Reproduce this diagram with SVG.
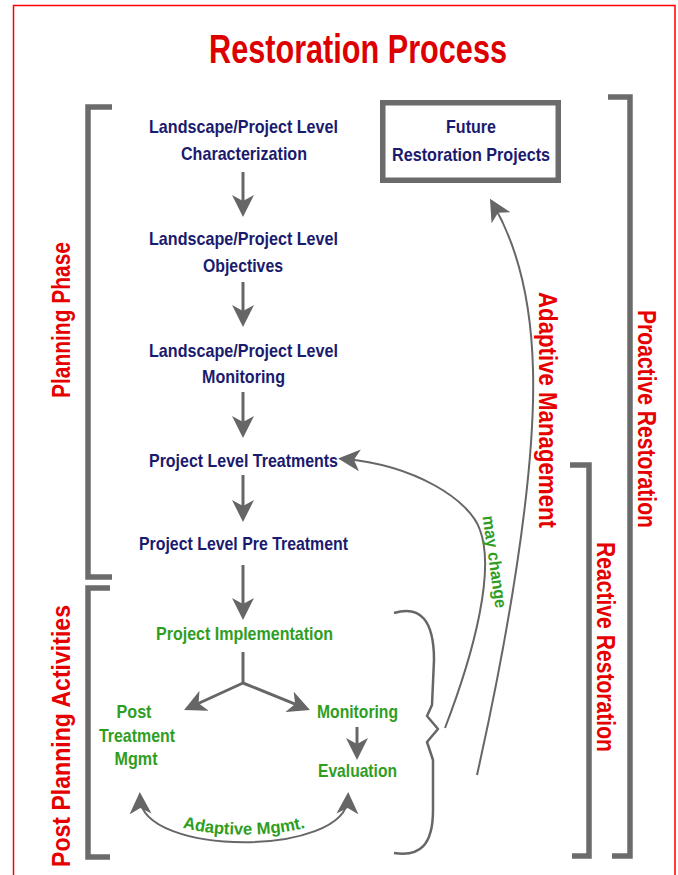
<svg xmlns="http://www.w3.org/2000/svg" width="678" height="875" viewBox="0 0 678 875">
<style>
text{font-family:"Liberation Sans",Arial,sans-serif;font-weight:bold;}
.navy{fill:#1a1a6e;font-size:19px;text-anchor:middle}
.green{fill:#2f9e1f;font-size:19px;text-anchor:middle}
.red{fill:#e60000;font-size:26px;text-anchor:middle}
.br{fill:none;stroke:#6b6b6b;stroke-width:5.5;stroke-linejoin:miter}
.ar{fill:none;stroke:#666;stroke-width:3;marker-end:url(#ah)}
.cv{fill:none;stroke:#666;stroke-width:2;marker-end:url(#ah)}
.brace{fill:none;stroke:#666;stroke-width:2.5;stroke-linejoin:round}
</style>
<defs>
<marker id="ah" markerUnits="userSpaceOnUse" markerWidth="22" markerHeight="22" refX="16" refY="11" orient="auto-start-reverse">
<path d="M0,0 L22,11 L0,22 L6,11 Z" fill="#666"/>
</marker>
<path id="tp" d="M 136,792 C 140,849 348,849 352,792"/>
</defs>

<rect width="678" height="875" fill="#fff"/>
<path d="M13.5,875 V5.5 H675 V875" fill="none" stroke="#f00" stroke-width="1.5"/>

<text x="358" y="63" font-size="40" fill="#dd0000" text-anchor="middle" textLength="298" lengthAdjust="spacingAndGlyphs">Restoration Process</text>

<g id="brackets">
<polyline class="br" points="112,107 88,107 88,577 112,577"/>
<polyline class="br" points="110,588 88,588 88,857 110,857"/>
<polyline class="br" points="608,97 630,97 630,856 612,856"/>
<polyline class="br" points="570,465 589,465 589,856 572,856"/>
</g>

<g id="side-labels">
<text class="red" transform="translate(70,320) rotate(-90)" textLength="156" lengthAdjust="spacingAndGlyphs">Planning Phase</text>
<text class="red" transform="translate(70,736) rotate(-90)" textLength="262" lengthAdjust="spacingAndGlyphs">Post Planning Activities</text>
<text class="red" transform="translate(638,419) rotate(90)" textLength="218" lengthAdjust="spacingAndGlyphs">Proactive Restoration</text>
<text class="red" transform="translate(597,647) rotate(90)" textLength="210" lengthAdjust="spacingAndGlyphs">Reactive Restoration</text>
</g>

<g id="n-char">
<text class="navy" x="243.5" y="133" textLength="189" lengthAdjust="spacingAndGlyphs">Landscape/Project Level</text>
<text class="navy" x="244" y="160" textLength="126" lengthAdjust="spacingAndGlyphs">Characterization</text>
</g>
<g id="n-obj">
<text class="navy" x="243.5" y="245" textLength="189" lengthAdjust="spacingAndGlyphs">Landscape/Project Level</text>
<text class="navy" x="243" y="272" textLength="80" lengthAdjust="spacingAndGlyphs">Objectives</text>
</g>
<g id="n-mon">
<text class="navy" x="243.5" y="357" textLength="189" lengthAdjust="spacingAndGlyphs">Landscape/Project Level</text>
<text class="navy" x="243.5" y="383" textLength="83" lengthAdjust="spacingAndGlyphs">Monitoring</text>
</g>
<g id="n-treat">
<text class="navy" x="243.5" y="467" textLength="189" lengthAdjust="spacingAndGlyphs">Project Level Treatments</text>
</g>
<g id="n-pre">
<text class="navy" x="243.5" y="550" textLength="209" lengthAdjust="spacingAndGlyphs">Project Level Pre Treatment</text>
</g>
<g id="n-future">
<rect x="382.75" y="102.75" width="175.5" height="77.5" fill="none" stroke="#6b6b6b" stroke-width="5.5"/>
<text class="navy" x="471" y="133" textLength="50" lengthAdjust="spacingAndGlyphs">Future</text>
<text class="navy" x="471" y="161" textLength="158" lengthAdjust="spacingAndGlyphs">Restoration Projects</text>
</g>
<g id="n-impl">
<text class="green" x="244.5" y="640" textLength="177" lengthAdjust="spacingAndGlyphs">Project Implementation</text>
</g>
<g id="n-post">
<text class="green" x="134" y="718" textLength="35" lengthAdjust="spacingAndGlyphs">Post</text>
<text class="green" x="137" y="742" textLength="76" lengthAdjust="spacingAndGlyphs">Treatment</text>
<text class="green" x="136" y="765" textLength="43" lengthAdjust="spacingAndGlyphs">Mgmt</text>
</g>
<g id="n-monit">
<text class="green" x="357.5" y="718" textLength="81" lengthAdjust="spacingAndGlyphs">Monitoring</text>
</g>
<g id="n-eval">
<text class="green" x="357.5" y="777" textLength="79" lengthAdjust="spacingAndGlyphs">Evaluation</text>
</g>

<g id="connectors">
<path class="ar" d="M243,172 V211"/>
<path class="ar" d="M243,282 V321"/>
<path class="ar" d="M243,392 V432"/>
<path class="ar" d="M243,475 V516"/>
<path class="ar" d="M243,565 V614"/>
<path fill="none" stroke="#666" stroke-width="3" d="M243,652 V684"/>
<path class="ar" d="M243,683 L189.5,707.5"/>
<path class="ar" d="M243,683 L304.4,707.8"/>
<path class="ar" d="M357,727 V754"/>
<path class="cv" style="marker-start:url(#ah)" d="M 140,798 C 142,857 346,857 348,798"/>
<path class="cv" d="M 445,728 C 475,650 495,570 480,530 C 470,500 415,465 344,459"/>
<path class="cv" d="M 477,775 C 505,650 536,480 533,370 C 531,290 514,240 493,204"/>
<path class="brace" d="M 394,613 C 420,605 434,620 434,660 L 432,705 L 427,716 L 438,729 L 427,742 L 433,760 L 433,810 C 433,845 420,857 394,853"/>
<text class="green" style="font-size:17px"><textPath href="#tp" startOffset="50%" textLength="124" lengthAdjust="spacingAndGlyphs">Adaptive Mgmt.</textPath></text>
<text transform="translate(493,562) rotate(82)" y="4" fill="#2f9e1f" style="font-size:17px" text-anchor="middle" textLength="93" lengthAdjust="spacingAndGlyphs">may change</text>
<text class="red" transform="translate(539,410) rotate(90)" textLength="236" lengthAdjust="spacingAndGlyphs">Adaptive Management</text>
</g>
</svg>
